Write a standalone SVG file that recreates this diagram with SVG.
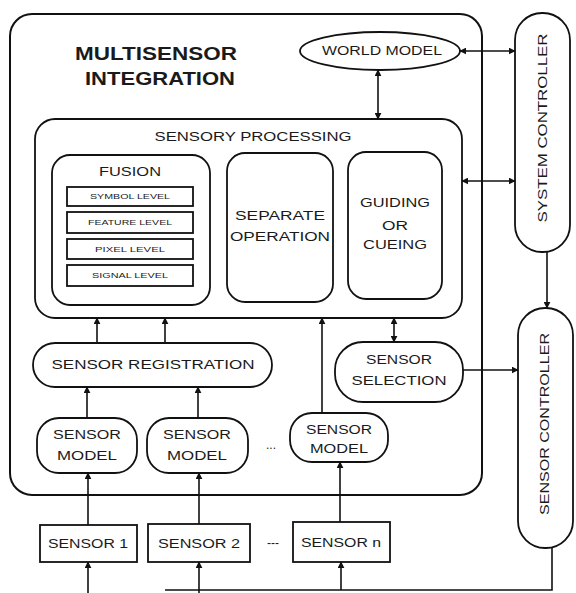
<svg xmlns="http://www.w3.org/2000/svg" width="576" height="593" viewBox="0 0 576 593">
<defs>
<marker id="ah" viewBox="0 0 10 10" refX="9" refY="5" markerWidth="7" markerHeight="7" orient="auto-start-reverse" markerUnits="userSpaceOnUse">
<path d="M0,0 L10,5 L0,10 z" fill="#111"/>
</marker>
<style>
.b{fill:#fff;stroke:#111;stroke-width:1.8}
.o{fill:none;stroke:#111;stroke-width:2}
.c{fill:none;stroke:#111;stroke-width:1.6}
text{font-family:"Liberation Sans",Arial,sans-serif;fill:#1a1a1a;text-anchor:middle}
.t{font-size:12px}
.s{font-size:7px}
.h{font-size:18px;font-weight:bold}
</style>
</defs>
<rect width="576" height="593" fill="#fff"/>

<g id="multisensor-integration">
<rect class="o" x="10" y="14" width="472" height="481" rx="22"/>
<text class="h" x="156" y="60" textLength="162" lengthAdjust="spacingAndGlyphs">MULTISENSOR</text>
<text class="h" x="160" y="85" textLength="150" lengthAdjust="spacingAndGlyphs">INTEGRATION</text>
</g>

<g id="world-model">
<ellipse class="b" cx="380" cy="51" rx="80" ry="19"/>
<text class="t" x="382" y="55" textLength="120" lengthAdjust="spacingAndGlyphs">WORLD MODEL</text>
</g>

<g id="system-controller">
<rect class="b" x="515" y="13" width="55" height="239" rx="27"/>
<text class="t" transform="translate(547,128) rotate(-90)" x="0" y="0" textLength="189" lengthAdjust="spacingAndGlyphs">SYSTEM CONTROLLER</text>
</g>

<g id="sensory-processing">
<rect class="b" x="35" y="119" width="427" height="199" rx="20"/>
<text class="t" x="253" y="141" textLength="197" lengthAdjust="spacingAndGlyphs">SENSORY PROCESSING</text>
</g>

<g id="fusion">
<rect class="b" x="52" y="155" width="158" height="150" rx="18"/>
<text class="t" x="130" y="176" textLength="62" lengthAdjust="spacingAndGlyphs">FUSION</text>
<rect class="b" x="67" y="187" width="126" height="19" stroke-width="1.5"/>
<text class="s" x="130" y="199" textLength="80" lengthAdjust="spacingAndGlyphs">SYMBOL LEVEL</text>
<rect class="b" x="67" y="212" width="126" height="21" stroke-width="1.5"/>
<text class="s" x="130" y="225" textLength="84" lengthAdjust="spacingAndGlyphs">FEATURE LEVEL</text>
<rect class="b" x="67" y="239" width="126" height="20" stroke-width="1.5"/>
<text class="s" x="130" y="252" textLength="70" lengthAdjust="spacingAndGlyphs">PIXEL LEVEL</text>
<rect class="b" x="67" y="265" width="126" height="21" stroke-width="1.5"/>
<text class="s" x="130" y="278" textLength="76" lengthAdjust="spacingAndGlyphs">SIGNAL LEVEL</text>
</g>

<g id="separate-operation">
<rect class="b" x="227" y="153" width="106" height="149" rx="18"/>
<text class="t" x="280" y="220" textLength="90" lengthAdjust="spacingAndGlyphs">SEPARATE</text>
<text class="t" x="280" y="241" textLength="100" lengthAdjust="spacingAndGlyphs">OPERATION</text>
</g>

<g id="guiding-or-cueing">
<rect class="b" x="348" y="152" width="94" height="147" rx="18"/>
<text class="t" x="395" y="207" textLength="70" lengthAdjust="spacingAndGlyphs">GUIDING</text>
<text class="t" x="395" y="230" textLength="26" lengthAdjust="spacingAndGlyphs">OR</text>
<text class="t" x="395" y="249" textLength="64" lengthAdjust="spacingAndGlyphs">CUEING</text>
</g>

<g id="sensor-registration">
<rect class="b" x="33" y="343" width="239" height="44" rx="22"/>
<text class="t" x="153" y="369" textLength="203" lengthAdjust="spacingAndGlyphs">SENSOR REGISTRATION</text>
</g>

<g id="sensor-selection">
<rect class="b" x="335" y="342" width="128" height="60" rx="28"/>
<text class="t" x="399" y="364" textLength="66" lengthAdjust="spacingAndGlyphs">SENSOR</text>
<text class="t" x="399" y="385" textLength="95" lengthAdjust="spacingAndGlyphs">SELECTION</text>
</g>

<g id="sensor-controller">
<rect class="b" x="518" y="308" width="55" height="240" rx="27"/>
<text class="t" transform="translate(549,424) rotate(-90)" x="0" y="0" textLength="182" lengthAdjust="spacingAndGlyphs">SENSOR CONTROLLER</text>
</g>

<g id="sensor-model-1">
<rect class="b" x="37" y="418" width="100" height="55" rx="22"/>
<text class="t" x="87" y="439" textLength="68" lengthAdjust="spacingAndGlyphs">SENSOR</text>
<text class="t" x="87" y="460" textLength="60" lengthAdjust="spacingAndGlyphs">MODEL</text>
</g>

<g id="sensor-model-2">
<rect class="b" x="147" y="418" width="101" height="55" rx="22"/>
<text class="t" x="197" y="439" textLength="68" lengthAdjust="spacingAndGlyphs">SENSOR</text>
<text class="t" x="197" y="460" textLength="60" lengthAdjust="spacingAndGlyphs">MODEL</text>
</g>

<g id="sensor-model-n">
<rect class="b" x="290" y="413" width="98" height="49" rx="22"/>
<text class="t" x="339" y="434" textLength="66" lengthAdjust="spacingAndGlyphs">SENSOR</text>
<text class="t" x="339" y="453" textLength="58" lengthAdjust="spacingAndGlyphs">MODEL</text>
</g>
<text class="t" x="271" y="449">...</text>

<g id="sensor-1">
<rect class="b" x="40" y="525" width="97" height="37"/>
<text class="t" x="88" y="548" textLength="80" lengthAdjust="spacingAndGlyphs">SENSOR 1</text>
</g>
<g id="sensor-2">
<rect class="b" x="148" y="524" width="102" height="38"/>
<text class="t" x="199" y="548" textLength="82" lengthAdjust="spacingAndGlyphs">SENSOR 2</text>
</g>
<text class="t" x="273" y="547">---</text>
<g id="sensor-n">
<rect class="b" x="293" y="522" width="97" height="40"/>
<text class="t" x="341" y="547" textLength="80" lengthAdjust="spacingAndGlyphs">SENSOR n</text>
</g>

<g id="connectors">
<line class="c" x1="460" y1="51" x2="515" y2="51" marker-start="url(#ah)" marker-end="url(#ah)"/>
<line class="c" x1="378" y1="70" x2="378" y2="119" marker-start="url(#ah)" marker-end="url(#ah)"/>
<line class="c" x1="462" y1="181" x2="515" y2="181" marker-start="url(#ah)" marker-end="url(#ah)"/>
<line class="c" x1="547" y1="252" x2="547" y2="308" marker-end="url(#ah)"/>
<line class="c" x1="97" y1="343" x2="97" y2="318" marker-end="url(#ah)"/>
<line class="c" x1="165" y1="343" x2="165" y2="318" marker-end="url(#ah)"/>
<line class="c" x1="394" y1="318" x2="394" y2="342" marker-start="url(#ah)" marker-end="url(#ah)"/>
<line class="c" x1="322" y1="413" x2="322" y2="318" marker-end="url(#ah)"/>
<line class="c" x1="463" y1="370" x2="518" y2="370" marker-end="url(#ah)"/>
<line class="c" x1="87" y1="418" x2="87" y2="387" marker-end="url(#ah)"/>
<line class="c" x1="198" y1="418" x2="198" y2="387" marker-end="url(#ah)"/>
<line class="c" x1="88" y1="525" x2="88" y2="473" marker-end="url(#ah)"/>
<line class="c" x1="199" y1="524" x2="199" y2="473" marker-end="url(#ah)"/>
<line class="c" x1="340" y1="522" x2="340" y2="462" marker-end="url(#ah)"/>
<line class="c" x1="88" y1="593" x2="88" y2="562" marker-end="url(#ah)"/>
<line class="c" x1="199" y1="593" x2="199" y2="562" marker-end="url(#ah)"/>
<polyline class="c" points="552,548 552,590 165,590"/>
<line class="c" x1="341" y1="590" x2="341" y2="562" marker-end="url(#ah)"/>
</g>
</svg>
